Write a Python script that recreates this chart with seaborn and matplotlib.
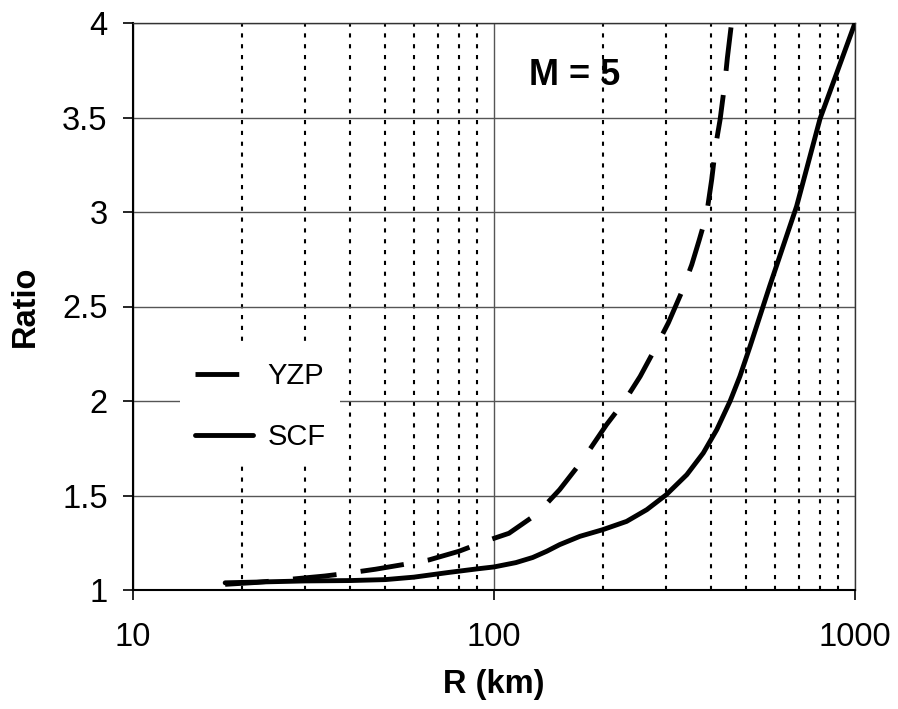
import matplotlib
matplotlib.use("Agg")
import matplotlib.pyplot as plt
import matplotlib.ticker as mticker
import numpy as np
import pandas as pd
import seaborn as sns

# ---- data ----
r_yzp = [18, 22, 27, 34, 39, 47, 57, 66, 80, 94, 110, 120, 132, 152, 175, 205, 230,
         254, 280, 304, 330, 353, 370, 388, 401, 412, 423, 436, 443, 455]
ratio_yzp = [1.030, 1.040, 1.056, 1.074, 1.088, 1.110, 1.137, 1.159, 1.205, 1.256,
             1.300, 1.350, 1.405, 1.531, 1.681, 1.875, 2.000, 2.130, 2.280, 2.413,
             2.570, 2.721, 2.850, 2.986, 3.173, 3.361, 3.489, 3.683, 3.815, 4.000]

r_scf = [18, 30, 40, 50, 60, 75, 90, 100, 115, 128, 140, 152, 173, 200, 233, 265,
         300, 342, 380, 414, 451, 480, 512, 545, 581, 689, 800, 1000]
ratio_scf = [1.038, 1.048, 1.050, 1.055, 1.068, 1.093, 1.112, 1.122, 1.145, 1.172,
             1.205, 1.240, 1.284, 1.319, 1.363, 1.425, 1.504, 1.610, 1.725, 1.848,
             2.000, 2.131, 2.289, 2.448, 2.611, 3.030, 3.493, 4.000]

series_names = ["YZP", "SCF"]
x_ticks = [10, 100, 1000]
x_tick_labels = ["10", "100", "1000"]
y_ticks = [1, 1.5, 2, 2.5, 3, 3.5, 4]
y_tick_labels = ["1", "1.5", "2", "2.5", "3", "3.5", "4"]
annotation = "M = 5"
x_label = "R (km)"
y_label = "Ratio"

# ---- style ----
sns.set_style("white")
plt.rcParams["font.family"] = ["Liberation Sans", "DejaVu Sans"]
plt.rcParams["text.color"] = "black"
plt.rcParams["axes.labelcolor"] = "black"

fig = plt.figure(figsize=(8.98, 7.09), dpi=100)
ax = fig.add_axes([133 / 898, 1 - 590 / 709, 722 / 898, 567 / 709])

df_yzp = pd.DataFrame({"R": r_yzp, "Ratio": ratio_yzp})
df_scf = pd.DataFrame({"R": r_scf, "Ratio": ratio_scf})

sns.lineplot(data=df_yzp, x="R", y="Ratio", ax=ax, color="black", lw=3.5,
             linestyle=(0, (9, 5)), label=series_names[0], zorder=5,
             solid_joinstyle="round")
sns.lineplot(data=df_scf, x="R", y="Ratio", ax=ax, color="black", lw=3.5,
             label=series_names[1], zorder=5, solid_joinstyle="round",
             solid_capstyle="round")

ax.set_xscale("log")
ax.set_xlim(10, 1000)
ax.set_ylim(1, 4)

ax.xaxis.set_major_locator(mticker.FixedLocator(x_ticks))
ax.xaxis.set_major_formatter(mticker.FixedFormatter(x_tick_labels))
ax.xaxis.set_minor_locator(mticker.LogLocator(base=10, subs=np.arange(2, 10)))
ax.xaxis.set_minor_formatter(mticker.NullFormatter())
ax.set_yticks(y_ticks)
ax.set_yticklabels(y_tick_labels)

# grid
ax.set_axisbelow(True)
ax.yaxis.grid(True, which="major", color="#555555", lw=1.0, ls="-")
ax.xaxis.grid(True, which="major", color="#555555", lw=1.0, ls="-")
ax.xaxis.grid(True, which="minor", color="black", lw=1.5, ls=(0, (2, 3.2)))

# spines
for s in ["left", "bottom"]:
    ax.spines[s].set_color("black")
    ax.spines[s].set_linewidth(1.5)
for s in ["top", "right"]:
    ax.spines[s].set_color("#333333")
    ax.spines[s].set_linewidth(1.0)
    ax.spines[s].set_visible(True)

ax.tick_params(axis="both", which="major", direction="out", length=7.2, width=1.2,
               color="black", labelsize=23.5, labelcolor="black")
ax.tick_params(axis="x", which="major", pad=16, bottom=True)
ax.tick_params(axis="y", which="major", pad=11, left=True)
ax.tick_params(axis="both", which="minor", length=0)

ax.set_xlabel(x_label, fontsize=23.5, fontweight="bold", labelpad=11, color="black")
ax.set_ylabel(y_label, fontsize=23.5, fontweight="bold", labelpad=15, color="black")

ax.text(0.611, 0.908, annotation, transform=ax.transAxes, ha="center", va="center",
        fontsize=26, fontweight="bold", color="black")

leg = ax.legend(loc="upper left", bbox_to_anchor=(0.065, 0.428), fontsize=21,
                frameon=True, fancybox=False, framealpha=1.0, facecolor="white",
                edgecolor="none", borderpad=0.5, labelspacing=1.15,
                handlelength=2.0, handletextpad=0.5, borderaxespad=0)
for line in leg.get_lines():
    line.set_linewidth(3.5)
for t in leg.get_texts():
    t.set_color("black")

fig.savefig("out.png", dpi=100)
